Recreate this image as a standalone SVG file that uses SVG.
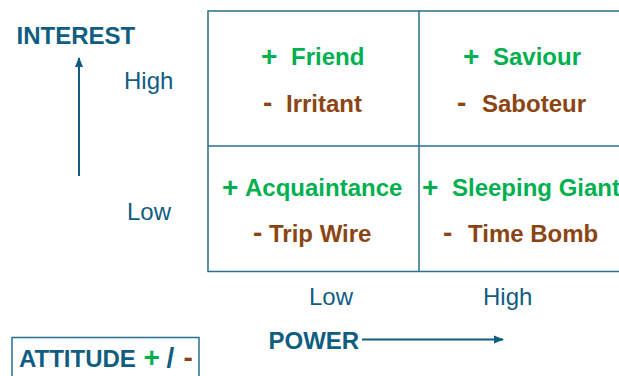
<svg xmlns="http://www.w3.org/2000/svg" width="619" height="376" viewBox="0 0 619 376">
  <style>
    text { font-family: "Liberation Sans", Arial, sans-serif; font-size: 24px; }
    .axis { fill: #0f5e82; }
    .b { font-weight: bold; }
    .pos { fill: #00b050; font-weight: bold; }
    .neg { fill: #8b4513; font-weight: bold; }
    .sym { font-size: 28px; }
    .grid { fill: none; stroke: #2a6f90; stroke-width: 1.5; }
    .arrow { stroke: #0f5e82; stroke-width: 2; fill: none; }
  </style>
  <defs>
    <marker id="head" viewBox="0 0 10 10" refX="9" refY="5" markerWidth="5" markerHeight="5" orient="auto" markerUnits="strokeWidth">
      <path d="M0,1 L10,5 L0,9 z" fill="#0f5e82"/>
    </marker>
  </defs>

  <rect width="619" height="376" fill="#ffffff"/>

  <!-- power / interest grid -->
  <g id="grid">
    <rect class="grid" x="208" y="11" width="430" height="260.5"/>
    <line class="grid" x1="419" y1="11" x2="419" y2="271.5"/>
    <line class="grid" x1="208" y1="146" x2="619" y2="146"/>
  </g>

  <g id="cell-friend">
    <text class="pos sym" x="261" y="66">+</text>
    <text class="pos" x="291" y="65">Friend</text>
    <text class="neg sym" x="263" y="112">-</text>
    <text class="neg" x="286" y="112">Irritant</text>
  </g>

  <g id="cell-saviour">
    <text class="pos sym" x="463" y="66">+</text>
    <text class="pos" x="493" y="65">Saviour</text>
    <text class="neg sym" x="457" y="112">-</text>
    <text class="neg" x="482" y="112">Saboteur</text>
  </g>

  <g id="cell-acquaintance">
    <text class="pos sym" x="222" y="197">+</text>
    <text class="pos" x="245" y="196">Acquaintance</text>
    <text class="neg sym" x="253" y="242">-</text>
    <text class="neg" x="269" y="242">Trip Wire</text>
  </g>

  <g id="cell-sleeping-giant">
    <text class="pos sym" x="422" y="197">+</text>
    <text class="pos" x="452" y="196">Sleeping Giant</text>
    <text class="neg sym" x="443" y="242">-</text>
    <text class="neg" x="468" y="242">Time Bomb</text>
  </g>

  <!-- interest axis -->
  <g id="interest-axis">
    <text class="axis b" x="16.5" y="44">INTEREST</text>
    <text class="axis" x="124" y="89">High</text>
    <text class="axis" x="127" y="220">Low</text>
  </g>

  <!-- power axis -->
  <g id="power-axis">
    <text class="axis" x="309" y="305">Low</text>
    <text class="axis" x="483" y="305">High</text>
    <text class="axis b" x="268.5" y="349">POWER</text>
  </g>

  <!-- attitude legend -->
  <g id="attitude">
    <rect x="12" y="337.5" width="187" height="45" fill="none" stroke="#2a6f90" stroke-width="1.5"/>
    <text class="axis b" x="19" y="367">ATTITUDE</text>
    <text class="pos sym" x="143.5" y="367">+</text>
    <text class="axis b sym" x="166.5" y="367">/</text>
    <text class="neg sym" x="183.5" y="367">-</text>
  </g>

  <!-- axis arrows -->
  <g id="connectors">
    <line class="arrow" x1="79" y1="176" x2="79" y2="58" marker-end="url(#head)"/>
    <line class="arrow" x1="362" y1="339.5" x2="503" y2="339.5" marker-end="url(#head)"/>
  </g>
</svg>
